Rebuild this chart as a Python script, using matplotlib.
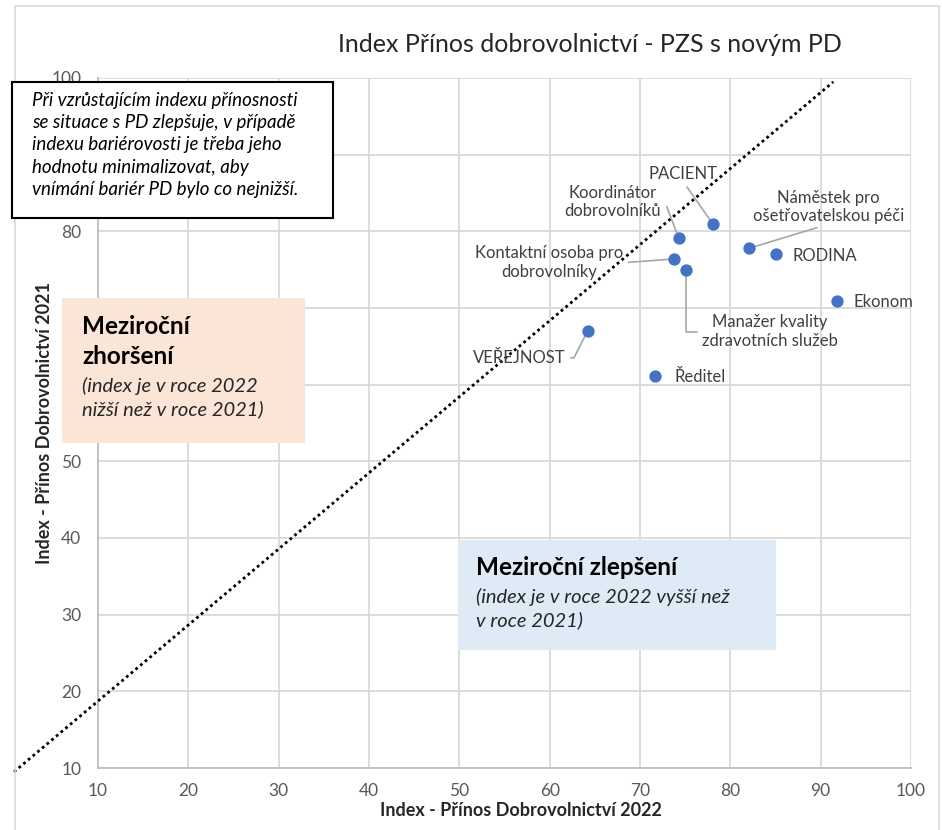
import matplotlib.pyplot as plt
from matplotlib.patches import Rectangle

plt.rcParams['font.family'] = ['Lato', 'DejaVu Sans']

# roles: x = index 2022, y = index 2021
roles = ['PACIENT', 'Koordinátor\ndobrovolníků', 'Náměstek pro\nošetřovatelskou péči',
         'RODINA', 'Kontaktní osoba pro\ndobrovolníky', 'Manažer kvality\nzdravotních služeb',
         'Ekonom', 'VEŘEJNOST', 'Ředitel']
index_2022 = [78.1, 74.3, 82.1, 85.1, 73.8, 75.1, 91.8, 64.2, 71.7]
index_2021 = [80.9, 79.1, 77.8, 77.0, 76.4, 74.9, 70.9, 67.0, 61.1]

# label placement (data coords), alignment, leader line style
label_pos = [(74.8, 87.5), (67.0, 83.8), (90.9, 83.2), (86.9, 76.8), (59.9, 75.9),
             (84.4, 66.9), (93.6, 70.8), (56.6, 63.5), (73.8, 61.0)]
label_ha = ['center', 'center', 'center', 'left', 'center', 'center', 'left', 'center', 'left']
leaders = [
    dict(relpos=(0.5, 0.0), connectionstyle='arc3'),
    dict(relpos=(1.0, 0.4), connectionstyle='angle,angleA=0,angleB=111,rad=0'),
    dict(relpos=(0.5, 0.0), connectionstyle='arc3'),
    None,
    dict(relpos=(1.0, 0.5), connectionstyle='arc3'),
    dict(relpos=(0.0, 0.5), connectionstyle='angle,angleA=180,angleB=90,rad=0'),
    None,
    dict(relpos=(1.0, 0.5), connectionstyle='angle,angleA=0,angleB=63,rad=0'),
    None,
]

diag_x = [0.7, 91.4]
diag_y = [9.5, 99.5]

fig = plt.figure(figsize=(9.42, 8.30), dpi=100)
ax = fig.add_axes([98 / 942, 62 / 830, 813 / 942, 690 / 830])

ax.set_xlim(10, 100)
ax.set_ylim(10, 100)
ax.set_xticks(range(10, 101, 10))
ax.set_yticks(range(10, 101, 10))
ax.grid(True, color='#d9d9d9', linewidth=1.3)
ax.set_axisbelow(True)
for s in ['top', 'right']:
    ax.spines[s].set_visible(False)
for s in ['left', 'bottom']:
    ax.spines[s].set_color('#bfbfbf')
    ax.spines[s].set_linewidth(1.3)
ax.tick_params(length=0, colors='#595959', labelsize=12.5)
ax.tick_params(axis='y', pad=12)
ax.tick_params(axis='x', pad=11)
# the "90" label sits behind the note box
ax.get_yticklabels()[8].set_visible(False)

ax.set_xlabel('Index - Přínos Dobrovolnictví 2022', fontsize=13, fontweight='bold', color='#262626')
ax.xaxis.set_label_coords((521 - 98) / 813, -0.049)
ax.set_ylabel('Index - Přínos Dobrovolnictví 2021', fontsize=13, fontweight='bold', color='#262626')
ax.yaxis.set_label_coords(-0.055, 0.5)

ax.plot(diag_x, diag_y, color='black', linestyle=(0, (1, 1.2)), linewidth=2, clip_on=False, zorder=3)

ax.scatter(index_2022, index_2021, s=62, color='#4472C4', zorder=5, clip_on=False)

for i, name in enumerate(roles):
    props = None
    if leaders[i] is not None:
        props = dict(arrowstyle='-', color='#a6a6a6', lw=1.2, shrinkA=2, shrinkB=0, **leaders[i])
    ax.annotate(name, xy=(index_2022[i], index_2021[i]), xytext=label_pos[i],
                ha=label_ha[i], va='center', fontsize=12, color='#404040',
                linespacing=1.2, arrowprops=props, zorder=4)

fig.text(590 / 942, 1 - 45 / 830, 'Index Přínos dobrovolnictví - PZS s novým PD',
         ha='center', va='center', fontsize=18, color='#262626')

# chart-area border
border = Rectangle((15 / 942, -0.01), 924 / 942, 1 - 6 / 830 + 0.01, transform=fig.transFigure,
                   fill=False, edgecolor='#d9d9d9', linewidth=1.2)
fig.add_artist(border)

# note box
fig.add_artist(Rectangle((12 / 942, 1 - 218 / 830), 321 / 942, 136 / 830, transform=fig.transFigure,
                         facecolor='white', edgecolor='black', linewidth=1.5, zorder=6))
fig.text(32 / 942, 1 - 92 / 830,
         'Při vzrůstajícím indexu přínosnosti\nse situace s PD zlepšuje, v případě\n'
         'indexu bariérovosti je třeba jeho\nhodnotu minimalizovat, aby\n'
         'vnímání bariér PD bylo co nejnižší.',
         ha='left', va='top', fontsize=13.5, style='italic', color='black',
         linespacing=1.37, zorder=7)

# worsening box
fig.add_artist(Rectangle((62 / 942, 1 - 443 / 830), 243 / 942, 145 / 830, transform=fig.transFigure,
                         facecolor='#FBE5D6', edgecolor='none', zorder=6))
fig.text(82 / 942, 1 - 315 / 830, 'Meziroční\nzhoršení', ha='left', va='top', fontsize=17.5,
         fontweight='bold', color='black', linespacing=1.35, zorder=7)
fig.text(82 / 942, 1 - 377 / 830, '(index je v roce 2022\nnižší než v roce 2021)', ha='left', va='top',
         fontsize=14.5, style='italic', color='#262626', linespacing=1.35, zorder=7)

# improvement box
fig.add_artist(Rectangle((458 / 942, 1 - 650 / 830), 318 / 942, 110 / 830, transform=fig.transFigure,
                         facecolor='#DEEBF7', edgecolor='none', zorder=6))
fig.text(476 / 942, 1 - 556 / 830, 'Meziroční zlepšení', ha='left', va='top', fontsize=17.5,
         fontweight='bold', color='black', zorder=7)
fig.text(476 / 942, 1 - 588 / 830, '(index je v roce 2022 vyšší než\nv roce 2021)', ha='left', va='top',
         fontsize=14.5, style='italic', color='#262626', linespacing=1.35, zorder=7)

fig.savefig('out.png', dpi=100)
